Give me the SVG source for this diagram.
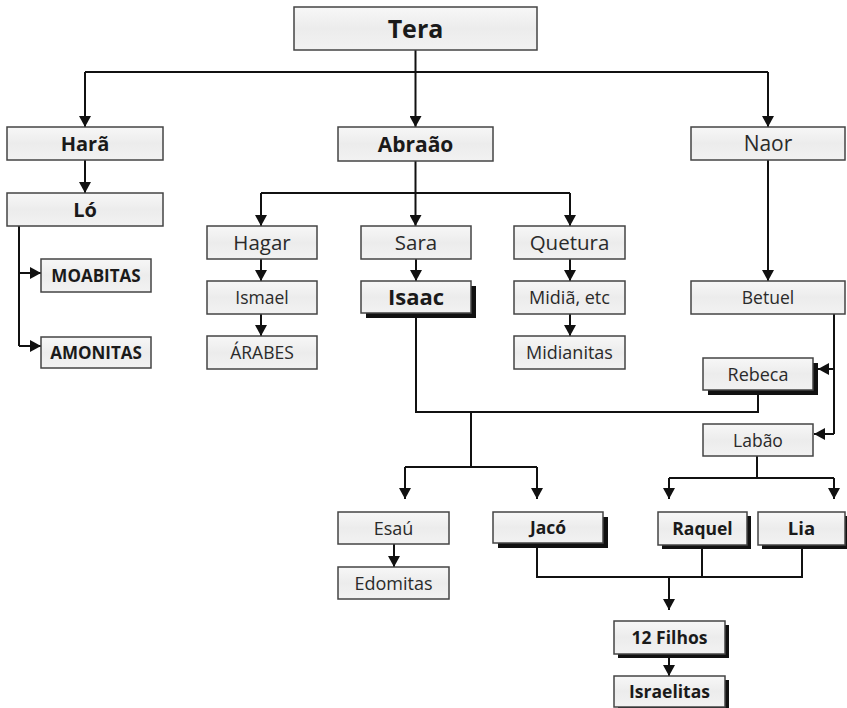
<svg xmlns="http://www.w3.org/2000/svg" width="847" height="708" viewBox="0 0 847 708">
<defs>
<linearGradient id="g" x1="0" y1="0" x2="0" y2="1">
<stop offset="0" stop-color="#f7f7f7"/>
<stop offset="0.5" stop-color="#ececec"/>
<stop offset="1" stop-color="#f2f2f2"/>
</linearGradient>
<marker id="ah" markerUnits="userSpaceOnUse" markerWidth="12" markerHeight="12" refX="11" refY="6" orient="auto">
<path d="M0,0 L11,6 L0,12 z" fill="#111"/>
</marker>
</defs>
<style>
.box{fill:url(#g);stroke:#444;stroke-width:1.5}
.sh{fill:#111}
.t{font-family:"Open Sans","DejaVu Sans",sans-serif;fill:#2a2a2a;text-anchor:middle}
.b{font-weight:bold;fill:#1a1a1a}
.c{fill:none;stroke:#111;stroke-width:2}
.a{marker-end:url(#ah)}
</style>
<rect width="847" height="708" fill="#fff"/>
<g id="connectors">
<path class="c" d="M85,72 H768"/>
<path class="c a" d="M415.5,50 V127"/>
<path class="c a" d="M85,72 V127"/>
<path class="c a" d="M768,72 V127"/>
<path class="c a" d="M85,160 V193"/>
<path class="c" d="M19,226 V346"/>
<path class="c a" d="M19,273 H41"/>
<path class="c a" d="M19,346 H41"/>
<path class="c a" d="M415.5,161 V226"/>
<path class="c" d="M261,193 H570"/>
<path class="c a" d="M261,193 V226"/>
<path class="c a" d="M570,193 V226"/>
<path class="c a" d="M261,259 V281"/>
<path class="c a" d="M261,314 V336"/>
<path class="c a" d="M416,259 V281"/>
<path class="c a" d="M570,259 V281"/>
<path class="c a" d="M570,314 V336"/>
<path class="c a" d="M768,160 V281"/>
<path class="c" d="M834,314 V434"/>
<path class="c a" d="M834,369 H818"/>
<path class="c a" d="M834,434 H814"/>
<path class="c" d="M416,318 V412 H758 V395"/>
<path class="c" d="M471,412 V467"/>
<path class="c" d="M405,467 H537"/>
<path class="c a" d="M405,467 V499"/>
<path class="c a" d="M537,467 V499"/>
<path class="c a" d="M394,544 V567"/>
<path class="c" d="M757,456 V478"/>
<path class="c" d="M669,478 H834"/>
<path class="c a" d="M669,478 V499"/>
<path class="c a" d="M834,478 V499"/>
<path class="c" d="M537,548 V577 H802 V549"/>
<path class="c" d="M702,549 V577"/>
<path class="c a" d="M669,577 V610"/>
<path class="c a" d="M669,658 V676"/>
</g>
<g id="tera"><rect class="box" x="294" y="7" width="243" height="43"/><text class="t b" x="415.5" y="37.5" font-size="25">Tera</text></g>
<g id="hara"><rect class="box" x="7" y="127" width="156" height="33"/><text class="t b" x="85" y="150.5" font-size="20">Harã</text></g>
<g id="abraao"><rect class="box" x="338" y="127" width="155" height="34"/><text class="t b" x="415.5" y="152" font-size="21">Abraão</text></g>
<g id="naor"><rect class="box" x="691" y="127" width="154" height="33"/><text class="t" x="768" y="151" font-size="21">Naor</text></g>
<g id="lo"><rect class="box" x="7" y="193" width="156" height="33"/><text class="t b" x="85" y="216.5" font-size="20">Ló</text></g>
<g id="moabitas"><rect class="box" x="41" y="259" width="110" height="33"/><text class="t b" x="96" y="281.5" font-size="17">MOABITAS</text></g>
<g id="amonitas"><rect class="box" x="41" y="337" width="110" height="31"/><text class="t b" x="96" y="358.5" font-size="17">AMONITAS</text></g>
<g id="hagar"><rect class="box" x="207" y="226" width="110" height="33"/><text class="t" x="262" y="249.5" font-size="20.5">Hagar</text></g>
<g id="sara"><rect class="box" x="361" y="226" width="110" height="33"/><text class="t" x="416" y="249.5" font-size="20.5">Sara</text></g>
<g id="quetura"><rect class="box" x="514" y="226" width="111" height="33"/><text class="t" x="569.5" y="249.5" font-size="20.5">Quetura</text></g>
<g id="ismael"><rect class="box" x="207" y="281" width="110" height="33"/><text class="t" x="262" y="303.5" font-size="17.5">Ismael</text></g>
<g id="isaac"><rect class="sh" x="366" y="286" width="110" height="32"/><rect class="box" x="361" y="281" width="110" height="32"/><text class="t b" x="416" y="305" font-size="22">Isaac</text></g>
<g id="midia"><rect class="box" x="514" y="281" width="111" height="33"/><text class="t" x="569.5" y="304" font-size="18">Midiã, etc</text></g>
<g id="betuel"><rect class="box" x="691" y="281" width="154" height="33"/><text class="t" x="768" y="303.5" font-size="17.5">Betuel</text></g>
<g id="arabes"><rect class="box" x="207" y="336" width="110" height="33"/><text class="t" x="262" y="358.5" font-size="17.5">ÁRABES</text></g>
<g id="midianitas"><rect class="box" x="514" y="336" width="111" height="33"/><text class="t" x="569.5" y="359" font-size="18">Midianitas</text></g>
<g id="rebeca"><rect class="sh" x="708" y="363" width="110" height="32"/><rect class="box" x="703" y="358" width="110" height="32"/><text class="t" x="758" y="380.5" font-size="18">Rebeca</text></g>
<g id="labao"><rect class="box" x="703" y="424" width="110" height="32"/><text class="t" x="758" y="446.5" font-size="17.5">Labão</text></g>
<g id="esau"><rect class="box" x="338" y="512" width="111" height="32"/><text class="t" x="393.5" y="534.5" font-size="18">Esaú</text></g>
<g id="edomitas"><rect class="box" x="338" y="567" width="111" height="32"/><text class="t" x="393.5" y="589.5" font-size="18">Edomitas</text></g>
<g id="jaco"><rect class="sh" x="498" y="517" width="110" height="31"/><rect class="box" x="493" y="512" width="110" height="31"/><text class="t b" x="548" y="534" font-size="17.5">Jacó</text></g>
<g id="raquel"><rect class="sh" x="662" y="516" width="89" height="33"/><rect class="box" x="658" y="512" width="89" height="33"/><text class="t b" x="702.5" y="535" font-size="17.5">Raquel</text></g>
<g id="lia"><rect class="sh" x="762" y="516" width="85" height="33"/><rect class="box" x="758" y="512" width="87" height="33"/><text class="t b" x="801.5" y="535" font-size="18.5">Lia</text></g>
<g id="filhos"><rect class="sh" x="618" y="625" width="111" height="33"/><rect class="box" x="614" y="621" width="111" height="33"/><text class="t b" x="669.5" y="644" font-size="17.5">12 Filhos</text></g>
<g id="israelitas"><rect class="sh" x="618" y="680" width="111" height="31"/><rect class="box" x="614" y="676" width="111" height="31"/><text class="t b" x="669.5" y="698" font-size="17.5">Israelitas</text></g>
</svg>
